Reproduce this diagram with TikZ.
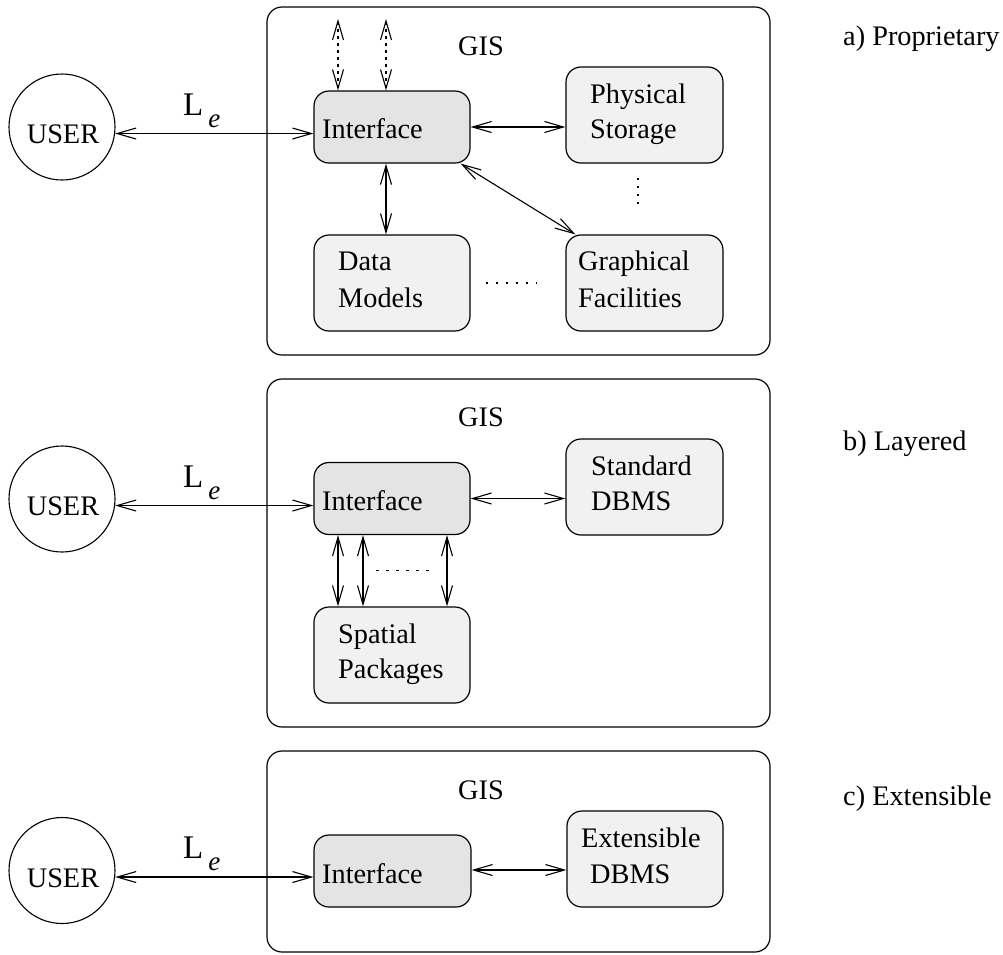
\documentclass[tikz,border=0pt]{standalone}
\usepackage{fontspec}
\setmainfont{Liberation Serif}
\newfontfamily\dgserif{Liberation Serif}
\usetikzlibrary{arrows.meta,calc}
\definecolor{intfill}{gray}{0.895}
\definecolor{boxfill}{gray}{0.945}
\newcommand{\dgfont}{\dgserif\fontsize{28.3}{34}\selectfont}
\newcommand{\Lelabel}{{\dgserif\fontsize{33}{38}\selectfont L}\kern5pt\raisebox{-12pt}{\dgserif\fontsize{27}{32}\selectfont\itshape e}}
\tikzset{
  txt/.style={font=\dgfont, anchor=base west, inner sep=0pt},
  frame/.style={draw, rounded corners=15pt, line width=1.2pt, inner sep=0pt},
  gisbox/.style={frame, fill=white},
  ifbox/.style={frame, fill=intfill, minimum width=156pt, minimum height=72pt},
  modbox/.style={frame, fill=boxfill, minimum width=157pt, minimum height=96pt},
  usercirc/.style={circle, draw, line width=1.1pt, minimum size=106pt, inner sep=0pt},
  link/.style={line width=1.1pt, {Straight Barb[length=19pt,width=11pt]}-{Straight Barb[length=19pt,width=11pt]}},
  extlink/.style={link, dash pattern=on 3.5pt off 3.5pt},
  etc/.style={line width=1.3pt, dash pattern=on 2.5pt off 5.5pt},
  hetc/.style={etc, dash pattern=on 2.5pt off 7.5pt},
}
\begin{document}
\begin{tikzpicture}[x=1pt, y=-1pt]
\useasboundingbox (0,0) rectangle (1003,954);

% ---------- a) Proprietary ----------
\node[gisbox, minimum width=503pt, minimum height=348pt] (gisa) at (518.5,181) {};
\node[txt] (gisalab) at (458,55) {GIS};
\node[txt] (caplab_a) at (843,45) {a) Proprietary};
\node[usercirc] (usera) at (62,127) {};
\node[font=\dgfont, anchor=base, inner sep=0pt] (useratxt) at (63,143) {USER};
\node[ifbox] (inta) at (392,127) {};
\node[txt] at (322,138) {Interface};
\node[modbox] (phys) at (644.5,115) {};
\node[txt] at (590,103) {Physical};
\node[txt] at (590,138) {Storage};
\node[modbox, minimum width=156pt] (data) at (392,283) {};
\node[txt] at (338,270) {Data};
\node[txt] at (338,307) {Models};
\node[modbox] (graph) at (644.5,283) {};
\node[txt] at (578,270) {Graphical};
\node[txt] at (578,307) {Facilities};
\node[anchor=base west, inner sep=0pt] (lea) at (183,115) {\Lelabel};

\draw[link] (usera.-7.6) -- (usera.-7.6 -| inta.west);
\draw[link] (inta.east) -- (inta.east -| phys.west);
\draw[link] ([xshift=-6pt]inta.south) -- ([xshift=-6pt]data.north);
\draw[link] ([xshift=-10pt]inta.south east) -- ([xshift=10pt]graph.north west);
\coordinate (exta1) at (338,19);
\coordinate (exta2) at (386,19);
\draw[extlink] (exta1) -- (exta1 |- inta.north);
\draw[extlink] (exta2) -- (exta2 |- inta.north);
\draw[hetc] ([xshift=15pt]data.east) -- ([xshift=-28pt]graph.west);
\draw[etc] ([xshift=-6.5pt,yshift=-14pt]phys.south) -- ([xshift=-6.5pt,yshift=27pt]graph.north);

% ---------- b) Layered ----------
\node[gisbox, minimum width=503pt, minimum height=348pt] (gisb) at (518.5,553) {};
\node[txt] (gisblab) at (458,426) {GIS};
\node[txt] (caplab_b) at (843,450) {b) Layered};
\node[usercirc] (userb) at (62,499) {};
\node[font=\dgfont, anchor=base, inner sep=0pt] (userbtxt) at (63,515) {USER};
\node[ifbox] (intb) at (392,498.5) {};
\node[txt] at (322,510) {Interface};
\node[modbox] (std) at (644.5,487) {};
\node[txt] at (591,475) {Standard};
\node[txt] at (591,510) {DBMS};
\node[modbox, minimum width=156pt] (spat) at (392,655) {};
\node[txt] at (338,643) {Spatial};
\node[txt] at (338,678) {Packages};
\node[anchor=base west, inner sep=0pt] (leb) at (183,487) {\Lelabel};

\draw[link] (userb.-7.6) -- (userb.-7.6 -| intb.west);
\draw[link] (intb.east) -- (intb.east -| std.west);
\draw[link] ([xshift=-54pt]intb.south) -- ([xshift=-54pt]spat.north);
\draw[link] ([xshift=-29pt]intb.south) -- ([xshift=-29pt]spat.north);
\draw[link] ([xshift=55pt]intb.south) -- ([xshift=55pt]spat.north);
\draw[hetc] ($(intb.south)!0.5!(spat.north)+(-16,0)$) -- ($(intb.south)!0.5!(spat.north)+(37,0)$);

% ---------- c) Extensible ----------
\node[gisbox, minimum width=503pt, minimum height=201pt] (gisc) at (518.5,851.5) {};
\node[txt] (gisclab) at (458,799) {GIS};
\node[txt] (caplab_c) at (843,805) {c) Extensible};
\node[usercirc] (userc) at (62,870.5) {};
\node[font=\dgfont, anchor=base, inner sep=0pt] (userctxt) at (63,887) {USER};
\node[ifbox, minimum width=157pt] (intc) at (392.5,871) {};
\node[txt] at (322,883) {Interface};
\node[modbox, minimum width=156pt] (ext) at (645,859) {};
\node[txt] at (581,847) {Extensible};
\node[txt] at (590,883) {DBMS};
\node[anchor=base west, inner sep=0pt] (lec) at (183,858) {\Lelabel};

\draw[link] (userc.-7.6) -- (userc.-7.6 -| intc.west);
\draw[link] ([yshift=1pt]intc.east) -- ([yshift=1pt]intc.east -| ext.west);
\end{tikzpicture}
\end{document}
